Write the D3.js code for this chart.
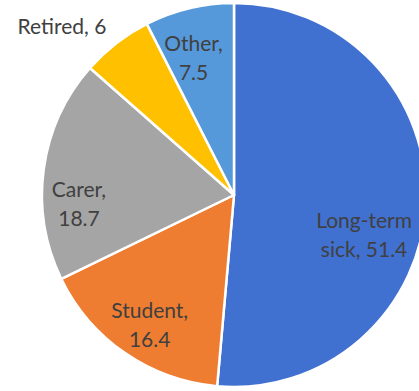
<!DOCTYPE html>
<html>
<head>
<meta charset="utf-8">
<script src="https://cdn.jsdelivr.net/npm/d3@7"></script>
<style>
  html, body { margin: 0; padding: 0; background: #ffffff; overflow: hidden; }
  svg { display: block; }
</style>
</head>
<body>
<svg id="chart" width="419" height="391"></svg>
<script>
// Economic inactivity by reason (%)
const categories = ["Long-term sick", "Student", "Carer", "Retired", "Other"];
const values = [51.4, 16.4, 18.7, 6, 7.5];
const sliceColors = ["#4070D0", "#EE7D31", "#A5A5A5", "#FFC000", "#5699DA"];

// Data-label placement: turn (deg) away from the slice middle,
// distance as a share of the radius, and wrap width for the text.
const labelLayout = {
  "Long-term sick": { turn: 14.4, radius: 0.708, wrap: 100 },
  "Student":        { turn: -1.5, radius: 0.805, wrap: 60 },
  "Carer":          { turn: -11.2, radius: 0.809, wrap: 60 },
  "Retired":        { turn: -7.7, radius: 1.256, wrap: 300 },
  "Other":          { turn: -3.0, radius: 0.742, wrap: 60 }
};

const width = 419, height = 391;
const cx = 234, cy = 195, R = 192;
const fontSize = 21, lineHeight = 29;

const data = categories.map((c, i) => ({ category: c, value: values[i] }));

const color = d3.scaleOrdinal().domain(categories).range(sliceColors);

const pie = d3.pie().sort(null).value(d => d.value);
const arc = d3.arc().innerRadius(0).outerRadius(R);

const svg = d3.select("#chart");
const g = svg.append("g").attr("transform", `translate(${cx},${cy})`);

const arcs = pie(data);

g.selectAll("path.slice")
  .data(arcs)
  .join("path")
  .attr("class", "slice")
  .attr("d", arc)
  .attr("fill", d => color(d.data.category))
  .attr("stroke", "#ffffff")
  .attr("stroke-width", 2.5)
  .attr("stroke-linejoin", "round");

// Word-wrap helper based on measured text width
function wrapWords(textSel, str, maxWidth) {
  const words = str.split(" ");
  const lines = [];
  let line = "";
  const probe = textSel.append("tspan");
  words.forEach(w => {
    const trial = line ? line + " " + w : w;
    probe.text(trial);
    if (line && probe.node().getComputedTextLength() > maxWidth) {
      lines.push(line);
      line = w;
    } else {
      line = trial;
    }
  });
  if (line) lines.push(line);
  probe.remove();
  return lines;
}

const labels = g.selectAll("text.label")
  .data(arcs)
  .join("text")
  .attr("class", "label")
  .attr("text-anchor", "middle")
  .attr("font-family", "Lato, 'Open Sans', sans-serif")
  .attr("font-size", fontSize)
  .attr("fill", "#404040");

labels.each(function(d) {
  const lay = labelLayout[d.data.category];
  const a = (d.startAngle + d.endAngle) / 2 + lay.turn * Math.PI / 180;
  const r = R * lay.radius;
  const x = r * Math.sin(a);
  const y = -r * Math.cos(a);
  const t = d3.select(this);
  const lines = wrapWords(t, `${d.data.category}, ${d.data.value}`, lay.wrap);
  const n = lines.length;
  lines.forEach((ln, i) => {
    t.append("tspan")
      .attr("x", x)
      .attr("y", y + (i - (n - 1) / 2) * lineHeight + 0.36 * fontSize)
      .text(ln);
  });
});
</script>
</body>
</html>
